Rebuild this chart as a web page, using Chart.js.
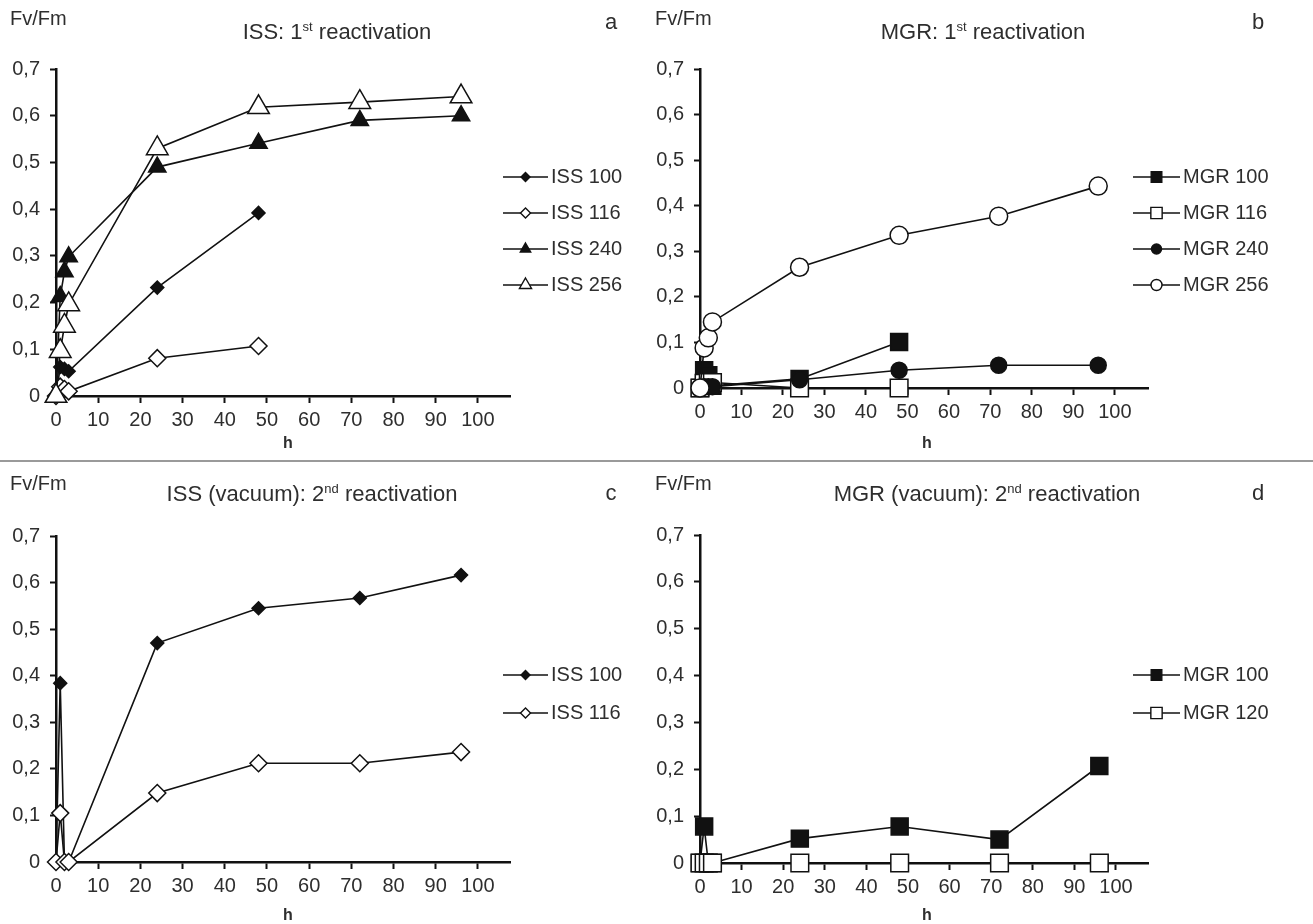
<!DOCTYPE html>
<html>
<head>
<meta charset="utf-8">
<script src="https://cdn.jsdelivr.net/npm/chart.js@4.4.1/dist/chart.umd.min.js"></script>
<style>
  body { margin: 0; background: #fff; width: 1313px; height: 924px; position: relative; overflow: hidden;
         font-family: "Liberation Sans", Arial, sans-serif; color: #2e2e2e; }
  canvas { position: absolute; }
  .t { position: absolute; white-space: nowrap; transform: translate(-50%, -50%); line-height: 1; }
  .title { font-size: 22px; }
  .title sup { font-size: 13px; vertical-align: 8px; }
  .lab { font-size: 20px; transform: translate(0, -50%); }
  .h { font-size: 16px; font-weight: bold; }
  .letter { font-size: 22px; }
  #divider { position: absolute; left: 0; top: 460px; width: 1313px; height: 2px; background: #9a9a9a; }
</style>
</head>
<body>
<canvas id="chart-a" width="656" height="460" style="left:0;top:0"></canvas>
<canvas id="chart-b" width="663" height="460" style="left:650px;top:0"></canvas>
<canvas id="chart-c" width="656" height="463" style="left:0;top:461px"></canvas>
<canvas id="chart-d" width="663" height="463" style="left:650px;top:461px"></canvas>
<div id="divider"></div>

<div class="t lab" style="left:10px;top:18px">Fv/Fm</div>
<div class="t title" style="left:337px;top:31px">ISS: 1<sup>st</sup> reactivation</div>
<div class="t letter" style="left:611px;top:22px">a</div>
<div class="t h" style="left:288px;top:443px">h</div>

<div class="t lab" style="left:655px;top:18px">Fv/Fm</div>
<div class="t title" style="left:983px;top:31px">MGR: 1<sup>st</sup> reactivation</div>
<div class="t letter" style="left:1258px;top:22px">b</div>
<div class="t h" style="left:927px;top:443px">h</div>

<div class="t lab" style="left:10px;top:483px">Fv/Fm</div>
<div class="t title" style="left:312px;top:493px">ISS (vacuum): 2<sup>nd</sup> reactivation</div>
<div class="t letter" style="left:611px;top:493px">c</div>
<div class="t h" style="left:288px;top:915px">h</div>

<div class="t lab" style="left:655px;top:483px">Fv/Fm</div>
<div class="t title" style="left:987px;top:493px">MGR (vacuum): 2<sup>nd</sup> reactivation</div>
<div class="t letter" style="left:1258px;top:493px">d</div>
<div class="t h" style="left:927px;top:915px">h</div>

<script>
const hours = [0, 1, 2, 3, 24, 48, 72, 96];
const xTicks = [0, 10, 20, 30, 40, 50, 60, 70, 80, 90, 100];
const yTicks = [0, 0.1, 0.2, 0.3, 0.4, 0.5, 0.6, 0.7];

// a: ISS 1st reactivation
const iss100a = [0, 0.062, 0.058, 0.053, 0.232, 0.392, null, null];
const iss116a = [0, 0.02, 0.015, 0.01, 0.081, 0.107, null, null];
const iss240a = [0, 0.213, 0.266, 0.298, 0.49, 0.541, 0.59, 0.60];
const iss256a = [0, 0.096, 0.15, 0.196, 0.53, 0.618, 0.629, 0.641];
// b: MGR 1st reactivation
const mgr100b = [0, 0.039, 0.028, 0.005, 0.02, 0.101, null, null];
const mgr116b = [0, 0.01, 0.012, 0.012, 0, 0, null, null];
const mgr240b = [0, 0.003, 0.003, 0.003, 0.018, 0.039, 0.05, 0.05];
const mgr256b = [0, 0.088, 0.11, 0.145, 0.265, 0.335, 0.377, 0.443];
// c: ISS (vacuum) 2nd reactivation
const iss100c = [0, 0.384, 0, 0, 0.47, 0.545, 0.567, 0.616];
const iss116c = [0, 0.105, 0, 0, 0.148, 0.212, 0.212, 0.236];
// d: MGR (vacuum) 2nd reactivation
const mgr100d = [0, 0.078, 0, 0, 0.052, 0.078, 0.05, 0.207];
const mgr120d = [0, 0, 0, 0, 0, 0, 0, 0];

const FONT = '"Liberation Sans", Arial, sans-serif';
const INK = '#111';
const TXT = '#2e2e2e';

function pts(values) {
  return hours.map((h, i) => ({ x: h, y: values[i] })).filter(p => p.y !== null);
}

function series(label, values, style, filled, radius, legendRadius, idx) {
  return {
    label: label,
    data: pts(values),
    order: -idx, // later series drawn on top
    borderColor: INK,
    borderWidth: 1.6,
    pointStyle: style,
    pointRadius: radius,
    pointBorderWidth: 1.5,
    pointBorderColor: INK,
    pointBackgroundColor: filled ? INK : '#fff',
    legendRadius: legendRadius,
    filled: filled,
    tension: 0,
    clip: false
  };
}

function fmt(v) {
  if (Math.abs(v) < 1e-9) return '0';
  return v.toFixed(1).replace('.', ',');
}

// marker for the legend rows
function marker(ctx, style, x, y, r, filled) {
  ctx.beginPath();
  if (style === 'rectRot') {
    ctx.moveTo(x - r, y); ctx.lineTo(x, y - r); ctx.lineTo(x + r, y); ctx.lineTo(x, y + r);
  } else if (style === 'triangle') {
    ctx.moveTo(x, y - r);
    ctx.lineTo(x + r * 0.866, y + r * 0.5);
    ctx.lineTo(x - r * 0.866, y + r * 0.5);
  } else if (style === 'rect') {
    const s = r * Math.SQRT1_2;
    ctx.rect(x - s, y - s, 2 * s, 2 * s);
  } else {
    ctx.arc(x, y, r, 0, Math.PI * 2);
  }
  ctx.closePath();
  ctx.fillStyle = filled ? INK : '#fff';
  ctx.fill();
  ctx.lineWidth = 1.4;
  ctx.strokeStyle = INK;
  ctx.stroke();
}

const sideLegend = {
  id: 'sideLegend',
  afterDraw(chart, args, opts) {
    const ctx = chart.ctx;
    ctx.save();
    ctx.font = '20px ' + FONT;
    ctx.textBaseline = 'middle';
    chart.data.datasets.forEach((ds, i) => {
      const y = opts.y + i * opts.gap;
      ctx.beginPath();
      ctx.moveTo(opts.x, y);
      ctx.lineTo(opts.x + opts.len, y);
      ctx.lineWidth = 1.6;
      ctx.strokeStyle = INK;
      ctx.stroke();
      marker(ctx, ds.pointStyle, opts.x + opts.len / 2, y, ds.legendRadius, ds.filled);
      ctx.fillStyle = TXT;
      ctx.fillText(ds.label, opts.x + opts.len + 3, y);
    });
    ctx.restore();
  }
};

function makeChart(id, datasets, box) {
  new Chart(document.getElementById(id), {
    type: 'line',
    data: { datasets: datasets },
    plugins: [sideLegend],
    options: {
      responsive: false,
      animation: false,
      devicePixelRatio: 1,
      layout: { padding: { left: 0, top: box.top, right: box.right, bottom: 0 } },
      plugins: {
        legend: { display: false },
        tooltip: { enabled: false },
        sideLegend: box.legend
      },
      scales: {
        x: {
          type: 'linear',
          min: 0,
          max: box.xMax,
          afterFit: s => { s.height = box.bottom; },
          afterBuildTicks: s => { s.ticks = xTicks.map(v => ({ value: v })); },
          ticks: { font: { size: 20, family: FONT }, color: TXT, padding: 5, maxRotation: 0 },
          grid: { drawOnChartArea: false, tickLength: 7, tickWidth: 2, tickColor: INK },
          border: { color: INK, width: 2.5 }
        },
        y: {
          min: 0,
          max: 0.7,
          afterFit: s => { s.width = box.left; },
          afterBuildTicks: s => { s.ticks = yTicks.map(v => ({ value: v })); },
          ticks: { font: { size: 20, family: FONT }, color: TXT, padding: 10, callback: v => fmt(v) },
          grid: { drawOnChartArea: false, tickLength: 6, tickWidth: 2, tickColor: INK },
          border: { color: INK, width: 2.5 }
        }
      }
    }
  });
}

makeChart('chart-a', [
  series('ISS 100', iss100a, 'rectRot', true, 6.5, 4.5, 0),
  series('ISS 116', iss116a, 'rectRot', false, 8.5, 5, 1),
  series('ISS 240', iss240a, 'triangle', true, 10, 6, 2),
  series('ISS 256', iss256a, 'triangle', false, 12.5, 7, 3)
], { left: 56, top: 69, right: 146, bottom: 64, xMax: 107.6,
     legend: { x: 503, y: 177, gap: 36, len: 45 } });

makeChart('chart-b', [
  series('MGR 100', mgr100b, 'rect', true, 12, 7.5, 0),
  series('MGR 116', mgr116b, 'rect', false, 12.5, 8, 1),
  series('MGR 240', mgr240b, 'circle', true, 8, 5, 2),
  series('MGR 256', mgr256b, 'circle', false, 9, 5.5, 3)
], { left: 50, top: 69, right: 165, bottom: 72, xMax: 108,
     legend: { x: 483, y: 177, gap: 36, len: 47 } });

makeChart('chart-c', [
  series('ISS 100', iss100c, 'rectRot', true, 6.5, 4.5, 0),
  series('ISS 116', iss116c, 'rectRot', false, 8.5, 5, 1)
], { left: 56, top: 75, right: 146, bottom: 62, xMax: 107.6,
     legend: { x: 503, y: 214, gap: 38, len: 45 } });

makeChart('chart-d', [
  series('MGR 100', mgr100d, 'rect', true, 12, 7.5, 0),
  series('MGR 120', mgr120d, 'rect', false, 12.5, 8, 1)
], { left: 50, top: 74, right: 165, bottom: 61, xMax: 107.7,
     legend: { x: 483, y: 214, gap: 38, len: 47 } });
</script>
</body>
</html>
